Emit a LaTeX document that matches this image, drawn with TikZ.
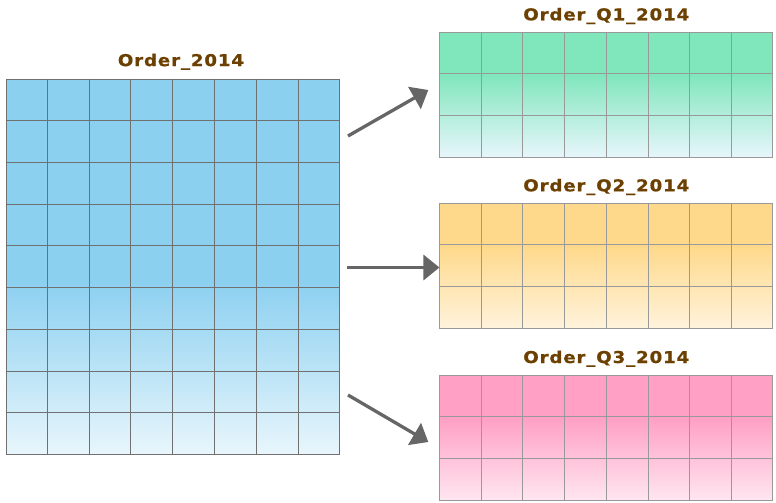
\documentclass[tikz,border=0pt]{standalone}
\usepackage{fontspec}
\usetikzlibrary{calc,arrows.meta}

\newfontfamily\titlefont[FakeStretch=1.12,LetterSpace=5,BoldFeatures={FakeBold=0.6}]{DejaVu Sans}

\definecolor{titlebrown}{HTML}{6B4000}
\definecolor{gridgrey}{HTML}{707070}
\definecolor{gridlight}{HTML}{999999}
\definecolor{arrowgrey}{HTML}{666666}
\definecolor{fullblue}{HTML}{8CD0F0}
\definecolor{paleblue}{HTML}{E8F6FC}
\definecolor{fullgreen}{HTML}{80E6BC}
\definecolor{fullorange}{HTML}{FED98B}
\definecolor{paleorange}{HTML}{FFF3DC}
\definecolor{fullpink}{HTML}{FFA0C4}
\definecolor{palepink}{HTML}{FFE6F0}

\pgfdeclareverticalshading{bluefade}{100bp}{color(0bp)=(paleblue); color(25bp)=(paleblue); color(48bp)=(fullblue); color(100bp)=(fullblue)}
\pgfdeclareverticalshading{greenfade}{100bp}{color(0bp)=(paleblue); color(25bp)=(paleblue); color(58bp)=(fullgreen); color(100bp)=(fullgreen)}
\pgfdeclareverticalshading{orangefade}{100bp}{color(0bp)=(paleorange); color(25bp)=(paleorange); color(58bp)=(fullorange); color(100bp)=(fullorange)}
\pgfdeclareverticalshading{pinkfade}{100bp}{color(0bp)=(palepink); color(25bp)=(palepink); color(58bp)=(fullpink); color(100bp)=(fullpink)}

\tikzset{
  title/.style={anchor=base, inner sep=0pt, text=titlebrown, font=\titlefont\bfseries\fontsize{16.3}{19}\selectfont},
  table/.style={rectangle, inner sep=0pt, line width=1pt},
  split/.style={->, draw=arrowgrey, line width=3.3pt, -{Triangle[length=16pt,width=25pt]}}
}

\begin{document}
\begin{tikzpicture}[x=1pt, y=-1pt]

\useasboundingbox (0,0) rectangle (776,503);

% Whole year table
\node (order) at (172.67, 266.67) [table, draw=gridgrey, shading=bluefade, minimum width=333.3pt, minimum height=375pt] {};
\node (ordertitle) at ([xshift=8.3pt, yshift=12.6pt]order.north) [title] {Order\_2014};

\foreach \c in {1,...,7}
  \draw [gridgrey, line width=1pt] ($(order.north west)!\c/8!(order.north east)$) -- ($(order.south west)!\c/8!(order.south east)$);
\foreach \r in {1,...,8}
  \draw [gridgrey, line width=1pt] ($(order.north west)!\r/9!(order.south west)$) -- ($(order.north east)!\r/9!(order.south east)$);

% Quarter tables
\foreach \t/\y/\f/\q in {qone/94.8/greenfade/Q1, qtwo/265.8/orangefade/Q2, qthree/437.5/pinkfade/Q3} {
  \node (\t) at (606.3, \y) [table, draw=gridlight, shading=\f, minimum width=332.7pt, minimum height=125pt] {};
  \node (\t title) at ([yshift=11.5pt]\t.north) [title] {Order\_\q\_2014};
  \foreach \c in {1,...,7}
    \draw [gridlight, line width=1pt] ($(\t.north west)!\c/8!(\t.north east)$) -- ($(\t.south west)!\c/8!(\t.south east)$);
  \foreach \r in {1,2}
    \draw [gridlight, line width=1pt] ($(\t.north west)!\r/3!(\t.south west)$) -- ($(\t.north east)!\r/3!(\t.south east)$);
}

% Split arrows
\coordinate (tailone) at (348, 136);
\coordinate (tipone) at (428.3, 90);
\coordinate (tailtwo) at (347.3, 267.5);
\coordinate (tailthree) at (348, 395);
\coordinate (tipthree) at (428.3, 442);

\draw [split] (tailone) -- (tipone);
\draw [split] (tailtwo) -- (tailtwo -| qtwo.west);
\draw [split] (tailthree) -- (tipthree);

\end{tikzpicture}
\end{document}
